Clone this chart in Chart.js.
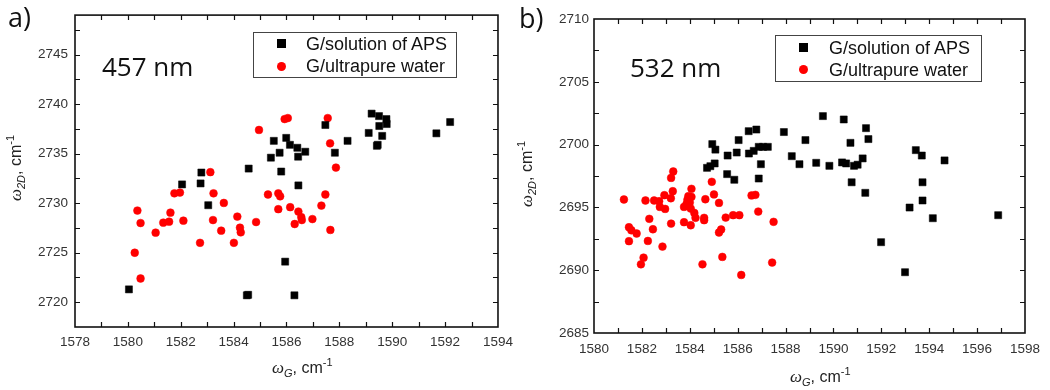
<!DOCTYPE html>
<html>
<head>
<meta charset="utf-8">
<script src="https://cdn.jsdelivr.net/npm/chart.js@4/dist/chart.umd.min.js"></script>
<style>
  html,body{margin:0;padding:0;background:#fff;}
  body{width:1050px;height:390px;position:relative;overflow:hidden;font-family:"Liberation Sans",Arial,sans-serif;}
  .panel{position:absolute;top:0;height:390px;}
  #pa{left:0;width:520px;}
  #pb{left:520px;width:530px;}
  canvas{display:block;}
  .tag{position:absolute;font-family:"Open Sans",sans-serif;font-size:27px;color:#111;line-height:1;}
  .laser{position:absolute;font-family:"Open Sans",sans-serif;font-size:26px;color:#111;line-height:1;}
  .legend{position:absolute;border:1px solid #444;background:#fff;}
  .legend .row{position:absolute;left:0;height:22px;line-height:22px;font-size:18px;color:#111;white-space:nowrap;}
  .legend .sq{position:absolute;width:9px;height:9px;background:#000;}
  .legend .ci{position:absolute;width:9px;height:9px;border-radius:50%;background:#f00;}
  .axt{position:absolute;font-size:16px;color:#222;white-space:nowrap;line-height:1;}
  .axt i{font-family:"Liberation Serif","DejaVu Serif",serif;font-size:17px;}
  .axt sub{font-size:11px;font-style:italic;vertical-align:-4px;}
  .axt sup{font-size:11px;vertical-align:7px;}
  .rot{transform:translate(-50%,-50%) rotate(-90deg);}
</style>
</head>
<body>
<div class="panel" id="pa"><canvas id="ca" width="520" height="390"></canvas></div>
<div class="panel" id="pb"><canvas id="cb" width="530" height="390"></canvas></div>

<div class="tag" style="left:8px;top:3px;">a)</div>
<div class="tag" style="left:519px;top:4px;">b)</div>
<div class="laser" style="left:102px;top:53px;">457 nm</div>
<div class="laser" style="left:630px;top:54px;">532 nm</div>

<div class="legend" style="left:253px;top:32px;width:202px;height:44px;">
  <div class="sq" style="left:23px;top:6px;"></div>
  <div class="row" style="left:52px;top:0px;">G/solution of APS</div>
  <div class="ci" style="left:23px;top:29px;"></div>
  <div class="row" style="left:52px;top:22px;">G/ultrapure water</div>
</div>
<div class="legend" style="left:775px;top:35px;width:205px;height:45px;">
  <div class="sq" style="left:23px;top:7px;"></div>
  <div class="row" style="left:53px;top:1px;">G/solution of APS</div>
  <div class="ci" style="left:23px;top:29px;"></div>
  <div class="row" style="left:53px;top:23px;">G/ultrapure water</div>
</div>

<div class="axt" style="left:272px;top:357px;"><i>ω</i><sub>G</sub>, cm<sup>-1</sup></div>
<div class="axt" style="left:790px;top:366px;"><i>ω</i><sub>G</sub>, cm<sup>-1</sup></div>
<div class="axt rot" style="left:16px;top:168px;"><i>ω</i><sub>2D</sub>, cm<sup>-1</sup></div>
<div class="axt rot" style="left:527px;top:174px;"><i>ω</i><sub>2D</sub>, cm<sup>-1</sup></div>

<script>
// ---------- Panel a) 457 nm ----------
const aps457X = [1580.04,1582.05,1582.78,1582.75,1583.04,1584.57,1584.50,1585.41,1585.52,1585.74,1585.80,1585.99,1586.13,1585.95,1586.30,1586.41,1586.44,1586.45,1586.71,1587.47,1587.83,1588.31,1589.11,1589.22,1589.50,1589.51,1589.42,1589.62,1589.78,1589.79,1591.67,1592.19,1584.55,1589.45];
const aps457Y = [2721.3,2731.9,2733.1,2732.0,2729.8,2733.5,2720.7,2734.6,2736.3,2735.1,2733.2,2736.6,2735.9,2724.1,2720.7,2735.6,2734.7,2731.8,2735.2,2737.9,2735.1,2736.3,2737.1,2739.05,2738.8,2737.8,2735.8,2736.8,2738.5,2738.0,2737.06,2738.2,2720.75,2735.9];
const water457X = [1580.26,1580.48,1580.36,1580.48,1581.05,1581.34,1581.56,1581.61,1581.76,1581.97,1582.10,1582.73,1583.12,1583.24,1583.22,1583.53,1583.63,1584.01,1584.14,1584.24,1584.27,1584.85,1584.96,1585.30,1585.69,1585.76,1585.69,1585.93,1586.05,1586.14,1586.31,1586.45,1586.56,1586.58,1586.98,1587.32,1587.47,1587.56,1587.65,1587.66,1587.87];
const water457Y = [2725.0,2722.4,2729.26,2728.0,2727.03,2728.04,2728.14,2729.05,2731.0,2731.08,2728.24,2726.0,2733.14,2731.0,2728.3,2727.23,2730.03,2726.0,2728.65,2727.53,2727.06,2728.1,2737.4,2730.88,2731.0,2730.7,2729.4,2738.5,2738.6,2729.6,2727.9,2729.16,2728.6,2728.3,2728.4,2729.76,2730.88,2738.6,2736.05,2727.3,2733.6];
const xLabels457 = [1578,1580,1582,1584,1586,1588,1590,1592,1594];
const yLabels457 = [2720,2725,2730,2735,2740,2745];
const xMarks457 = [1579,1580,1581,1582,1583,1584,1585,1586,1587,1588,1589,1590,1591,1592,1593];
const yMarks457 = [2720,2722.5,2725,2727.5,2730,2732.5,2735,2737.5,2740,2742.5,2745,2747.5];
const xRange457 = [1578,1594];
const yRange457 = [2717.5,2749];

// ---------- Panel b) 532 nm ----------
const aps532X = [1584.72,1584.86,1585.04,1584.94,1585.07,1585.58,1585.56,1585.86,1585.96,1586.04,1586.46,1586.78,1586.47,1586.67,1586.88,1587.06,1587.26,1586.97,1586.88,1587.93,1588.26,1588.58,1588.83,1589.28,1589.56,1589.83,1590.43,1590.36,1590.53,1590.71,1590.86,1591.01,1591.22,1591.36,1591.46,1590.76,1591.33,1591.99,1592.99,1593.18,1593.44,1593.69,1593.72,1593.72,1594.15,1594.64,1596.88];
const aps532Y = [2698.15,2698.28,2698.5,2700.04,2699.6,2699.13,2697.65,2697.2,2699.37,2700.36,2701.07,2701.2,2699.29,2699.5,2699.82,2699.82,2699.82,2698.44,2697.3,2701.0,2699.08,2698.44,2700.36,2698.55,2702.27,2698.31,2702.0,2698.58,2698.5,2700.14,2698.31,2698.4,2698.9,2701.31,2700.44,2697.0,2696.16,2692.23,2689.84,2694.99,2699.56,2699.13,2697.0,2695.55,2694.14,2698.74,2694.38];
const water532X = [1581.25,1581.46,1581.56,1581.46,1581.78,1581.96,1582.07,1582.15,1582.31,1582.25,1582.46,1582.51,1582.72,1582.75,1582.94,1582.97,1582.86,1583.21,1583.29,1583.22,1583.31,1583.22,1583.76,1583.76,1583.86,1583.90,1583.94,1584.00,1584.07,1584.07,1584.04,1584.04,1584.19,1584.24,1584.60,1584.60,1584.65,1584.53,1584.92,1585.01,1585.22,1585.22,1585.31,1585.36,1585.50,1585.81,1586.07,1586.15,1586.58,1586.74,1586.86,1587.50,1587.44];
const water532Y = [2695.63,2693.42,2693.18,2692.31,2692.92,2690.47,2691.0,2695.55,2694.09,2692.33,2693.26,2695.55,2695.49,2695.04,2695.97,2694.88,2691.88,2695.73,2696.29,2697.35,2697.86,2693.71,2695.04,2693.82,2695.26,2695.6,2695.89,2695.39,2696.48,2695.84,2693.58,2694.91,2694.56,2694.17,2694.17,2693.98,2695.65,2690.47,2697.04,2696.03,2695.36,2693.0,2693.24,2691.06,2694.19,2694.38,2694.38,2689.62,2695.95,2696.0,2694.67,2693.85,2690.61];
const xLabels532 = [1580,1582,1584,1586,1588,1590,1592,1594,1596,1598];
const yLabels532 = [2685,2690,2695,2700,2705,2710];
const xMarks532 = [1581,1582,1583,1584,1585,1586,1587,1588,1589,1590,1591,1592,1593,1594,1595,1596,1597];
const yMarks532 = [2687.5,2690,2692.5,2695,2697.5,2700,2702.5,2705,2707.5];
const xRange532 = [1580,1598];
const yRange532 = [2685,2710];

const seriesNames = ['G/solution of APS','G/ultrapure water'];

function zip(xs, ys){ return xs.map((v,i)=>({x:v, y:ys[i]})); }

const frameTicks = {
  id:'frameTicks',
  afterDraw(chart, args, opts){
    const ctx = chart.ctx, a = chart.chartArea, sx = chart.scales.x, sy = chart.scales.y;
    ctx.save();
    ctx.strokeStyle = '#111';
    ctx.lineWidth = 1.2;
    ctx.beginPath();
    const L = 5;
    for (const v of opts.xMarks){
      const p = Math.round(sx.getPixelForValue(v)) + 0.5;
      ctx.moveTo(p, a.bottom); ctx.lineTo(p, a.bottom - L);
      ctx.moveTo(p, a.top); ctx.lineTo(p, a.top + L);
    }
    for (const v of opts.yMarks){
      const p = Math.round(sy.getPixelForValue(v)) + 0.5;
      ctx.moveTo(a.left, p); ctx.lineTo(a.left + L, p);
      ctx.moveTo(a.right, p); ctx.lineTo(a.right - L, p);
    }
    ctx.stroke();
    ctx.lineWidth = 1.6;
    ctx.strokeRect(a.left, a.top, a.right - a.left, a.bottom - a.top);
    ctx.restore();
  }
};

function makeChart(id, apsX, apsY, watX, watY, xr, yr, xl, yl, xm, ym, cfg){
  const tickFont = {family:'"Liberation Sans", Arial, sans-serif', size:13.5};
  return new Chart(document.getElementById(id), {
    type:'scatter',
    data:{
      datasets:[
        {label:seriesNames[0], data:zip(apsX, apsY), pointStyle:'rect', pointRadius:5, backgroundColor:'#000', borderColor:'#000', borderWidth:0.5, order:1},
        {label:seriesNames[1], data:zip(watX, watY), pointStyle:'circle', pointRadius:3.9, backgroundColor:'#ff0000', borderColor:'#ff0000', borderWidth:0.5, order:2}
      ]
    },
    options:{
      responsive:false,
      animation:false,
      events:[],
      layout:{padding:{top:cfg.top, right:cfg.right, left:0, bottom:0}},
      plugins:{legend:{display:false}, tooltip:{enabled:false}, frameTicks:{xMarks:xm, yMarks:ym}},
      scales:{
        x:{
          type:'linear', min:xr[0], max:xr[1],
          afterBuildTicks:(s)=>{ s.ticks = xl.map(v=>({value:v})); },
          afterFit:(s)=>{ s.height = cfg.xh; },
          grid:{display:false, drawTicks:false}, border:{display:false},
          ticks:{font:tickFont, color:'#333', padding:cfg.xpad, maxRotation:0, autoSkip:false, callback:(v)=>String(v)}
        },
        y:{
          type:'linear', min:yr[0], max:yr[1],
          afterBuildTicks:(s)=>{ s.ticks = yl.map(v=>({value:v})); },
          afterFit:(s)=>{ s.width = cfg.yw; },
          grid:{display:false, drawTicks:false}, border:{display:false},
          ticks:{font:tickFont, color:'#333', padding:cfg.ypad, autoSkip:false, callback:(v)=>String(v)}
        }
      }
    },
    plugins:[frameTicks]
  });
}

makeChart('ca', aps457X, aps457Y, water457X, water457Y, xRange457, yRange457, xLabels457, yLabels457, xMarks457, yMarks457,
  {top:15, right:20, xh:63, yw:75, xpad:7, ypad:7});
makeChart('cb', aps532X, aps532Y, water532X, water532Y, xRange532, yRange532, xLabels532, yLabels532, xMarks532, yMarks532,
  {top:19, right:25, xh:57, yw:74, xpad:8, ypad:5});
</script>
</body>
</html>
